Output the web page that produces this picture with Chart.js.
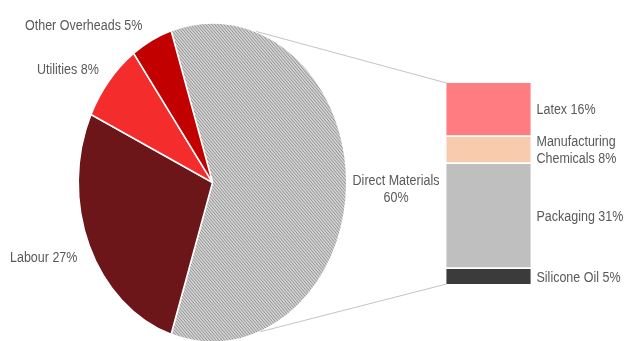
<!DOCTYPE html>
<html>
<head>
<meta charset="utf-8">
<script src="https://cdn.jsdelivr.net/npm/chart.js@4"></script>
<style>
  html, body { margin: 0; padding: 0; background: #fff; }
  #wrap { position: relative; width: 625px; height: 341px; overflow: hidden; }
  #wrap canvas { position: absolute; left: 0; top: 0; pointer-events: none; }
</style>
</head>
<body>
<div id="wrap">
  <canvas id="pie" width="625" height="341"></canvas>
  <canvas id="bar" width="625" height="341"></canvas>
</div>
<script>
// Pie: cost split
const CATEGORIES = ['Direct Materials', 'Labour', 'Utilities', 'Other Overheads'];
const SHARES     = [60, 27, 8, 5];
// Bar: breakdown of direct materials (top to bottom)
const MATERIALS       = ['Latex', 'Manufacturing Chemicals', 'Packaging', 'Silicone Oil'];
const MATERIAL_SHARES = [16, 8, 31, 5];

const PIE_COLORS = [null, '#6d161a', '#f42c2c', '#c20000'];
const BAR_COLORS = ['#ff7c80', '#f8cbad', '#bfbfbf', '#3b3b3b'];

const SY = 1.19;          // picture is stretched vertically
const FONT = '12.5px "Liberation Sans", Arial, sans-serif';
const TEXT = '#595959';
const LINE_H = 17;

// where the pie labels sit (first baseline)
const PIE_LABEL_POS = [
  { x: 396, y: 185, align: 'center' },
  { x: 10,  y: 262, align: 'left' },
  { x: 37,  y: 74,  align: 'left' },
  { x: 25,  y: 29.5, align: 'left' }
];

// fine grey hatch used for Direct Materials
function hatch() {
  const c = document.createElement('canvas');
  c.width = 3; c.height = 3;
  const g = c.getContext('2d');
  g.fillStyle = '#d2d2d2';
  g.fillRect(0, 0, 3, 3);
  g.fillStyle = '#939393';
  for (let y = 0; y < 3; y++) {
    for (let x = 0; x < 3; x++) {
      if ((x - y + 6) % 3 === 0) g.fillRect(x, y, 1, 1);
    }
  }
  return g.createPattern(c, 'repeat');
}

function drawText(ctx, text, x, y, align) {
  ctx.save();
  ctx.translate(x, y);
  ctx.scale(1, SY);
  ctx.font = FONT;
  ctx.fillStyle = TEXT;
  ctx.textAlign = align;
  ctx.textBaseline = 'alphabetic';
  ctx.fillText(text, 0, 0);
  ctx.restore();
}

function pieLines(i) {
  return i === 0 ? [CATEGORIES[i], SHARES[i] + '%'] : [CATEGORIES[i] + ' ' + SHARES[i] + '%'];
}

function barLines(i) {
  const name = MATERIALS[i], words = name.split(' ');
  if (name.length > 16) return [words[0], words.slice(1).join(' ') + ' ' + MATERIAL_SHARES[i] + '%'];
  return [name + ' ' + MATERIAL_SHARES[i] + '%'];
}

// squash the pie into the ellipse of the picture
const ellipsePlugin = {
  id: 'ellipse',
  beforeDatasetsDraw(chart) {
    const arc = chart.getDatasetMeta(0).data[0];
    const ctx = chart.ctx;
    ctx.save();
    ctx.translate(arc.x, arc.y);
    ctx.scale(1, SY);
    ctx.translate(-arc.x, -arc.y);
  },
  afterDatasetsDraw(chart) {
    chart.ctx.restore();
  },
  afterDraw(chart) {
    const ctx = chart.ctx;
    CATEGORIES.forEach((c, i) => {
      const p = PIE_LABEL_POS[i];
      pieLines(i).forEach((t, k) => drawText(ctx, t, p.x, p.y + k * LINE_H, p.align));
    });
  }
};

const pieColors = PIE_COLORS.map(c => c || hatch());

const pieChart = new Chart(document.getElementById('pie'), {
  type: 'pie',
  data: {
    labels: CATEGORIES,
    datasets: [{
      data: SHARES,
      backgroundColor: pieColors,
      borderColor: '#ffffff',
      borderWidth: 1.5
    }]
  },
  options: {
    responsive: false,
    animation: false,
    events: [],
    rotation: -18,
    layout: { padding: { left: 77.5, right: 277.5, top: 47, bottom: 23 } },
    plugins: { legend: { display: false }, tooltip: { enabled: false } }
  },
  plugins: [ellipsePlugin]
});

// connector lines + bar labels
const barExtras = {
  id: 'barExtras',
  afterDatasetsDraw(chart) {
    const ctx = chart.ctx;
    const n = MATERIALS.length;
    const topEl = chart.getDatasetMeta(n - 1).data[0];   // Latex
    const botEl = chart.getDatasetMeta(0).data[0];       // Silicone Oil
    const arc = pieChart.getDatasetMeta(0).data[0];
    const r = arc.outerRadius;
    const pt = deg => {
      const a = deg * Math.PI / 180;
      return [arc.x + r * Math.sin(a), arc.y - r * SY * Math.cos(a)];
    };
    const left = topEl.x - topEl.width / 2 + 1;
    const p1 = pt(19), p2 = pt(159);
    ctx.save();
    ctx.strokeStyle = '#c3c3c3';
    ctx.lineWidth = 1;
    ctx.beginPath();
    ctx.moveTo(p1[0], p1[1]);
    ctx.lineTo(left, Math.min(topEl.y, topEl.base) + 1);
    ctx.moveTo(p2[0], p2[1]);
    ctx.lineTo(left, Math.max(botEl.y, botEl.base) - 1);
    ctx.stroke();
    ctx.restore();

    MATERIALS.forEach((m, i) => {
      const el = chart.getDatasetMeta(n - 1 - i).data[0];
      const mid = (el.y + el.base) / 2;
      const x = el.x + el.width / 2 + 5;
      const lines = barLines(i);
      const first = mid + 5.3 - (lines.length - 1) * LINE_H / 2;
      lines.forEach((t, k) => drawText(ctx, t, x, first + k * LINE_H, 'left'));
    });
  }
};

new Chart(document.getElementById('bar'), {
  type: 'bar',
  data: {
    labels: ['Direct Materials'],
    datasets: MATERIALS.map((m, i) => ({
      label: m,
      data: [MATERIAL_SHARES[i]],
      backgroundColor: BAR_COLORS[i]
    })).reverse()
  },
  options: {
    responsive: false,
    animation: false,
    events: [],
    layout: { padding: { left: 445.5, right: 93.5, top: 82, bottom: 56 } },
    datasets: {
      bar: {
        categoryPercentage: 1,
        barPercentage: 1,
        borderWidth: 1.25,
        borderColor: '#ffffff',
        borderSkipped: false
      }
    },
    scales: {
      x: { stacked: true, display: false },
      y: { stacked: true, display: false, min: 0, max: 60 }
    },
    plugins: { legend: { display: false }, tooltip: { enabled: false } }
  },
  plugins: [barExtras]
});
</script>
</body>
</html>
